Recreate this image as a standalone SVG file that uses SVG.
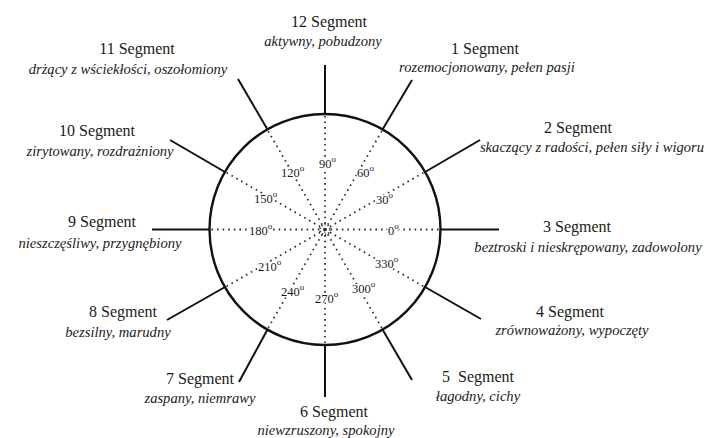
<svg xmlns="http://www.w3.org/2000/svg" width="709" height="438" viewBox="0 0 709 438">
<style>
.t{font-family:"Liberation Serif","Times New Roman",serif;font-size:16px;fill:#1a1a1a;text-anchor:middle}
.s{font-family:"Liberation Serif","Times New Roman",serif;font-size:14.6px;font-style:italic;fill:#1a1a1a;text-anchor:middle}
.a{font-family:"Liberation Serif","Times New Roman",serif;font-size:12.5px;fill:#1a1a1a;stroke:#fff;stroke-width:2.5;paint-order:stroke;stroke-linejoin:round}
.d{font-size:9px}
.ln{stroke:#111;stroke-width:2;fill:none}
.dot{stroke:#333;stroke-width:1.8;stroke-dasharray:1.6 4;fill:none}
</style>
<rect width="709" height="438" fill="#fff"/>
<g id="wheel">
<g class="dot">
<line x1="325" y1="229.5" x2="440" y2="229.5"/>
<line x1="325" y1="229.5" x2="424.6" y2="172"/>
<line x1="325" y1="229.5" x2="382.5" y2="129.9"/>
<line x1="325" y1="229.5" x2="325" y2="114.5"/>
<line x1="325" y1="229.5" x2="267.5" y2="129.9"/>
<line x1="325" y1="229.5" x2="225.4" y2="172"/>
<line x1="325" y1="229.5" x2="210" y2="229.5"/>
<line x1="325" y1="229.5" x2="225.4" y2="287"/>
<line x1="325" y1="229.5" x2="267.5" y2="329.1"/>
<line x1="325" y1="229.5" x2="325" y2="344.5"/>
<line x1="325" y1="229.5" x2="382.5" y2="329.1"/>
<line x1="325" y1="229.5" x2="424.6" y2="287"/>
<circle cx="325" cy="229.5" r="5" stroke-dasharray="1.2 2"/>
</g>
<circle cx="325" cy="229.5" r="115.5" stroke="#111" stroke-width="2.4" fill="none"/>
<text x="325" y="233" style="font-family:'Liberation Serif',serif;font-size:8px;fill:#333;text-anchor:middle">r</text>
<g class="angles">
<text class="a" x="319" y="168">90<tspan class="d" dy="-6">o</tspan></text>
<text class="a" x="357" y="177">60<tspan class="d" dy="-6">o</tspan></text>
<text class="a" x="281" y="177">120<tspan class="d" dy="-6">o</tspan></text>
<text class="a" x="254" y="203">150<tspan class="d" dy="-6">o</tspan></text>
<text class="a" x="376" y="204">30<tspan class="d" dy="-6">o</tspan></text>
<text class="a" x="249" y="235">180<tspan class="d" dy="-6">o</tspan></text>
<text class="a" x="388" y="235">0<tspan class="d" dy="-6">o</tspan></text>
<text class="a" x="258" y="271">210<tspan class="d" dy="-6">o</tspan></text>
<text class="a" x="375" y="268">330<tspan class="d" dy="-6">o</tspan></text>
<text class="a" x="281" y="296">240<tspan class="d" dy="-6">o</tspan></text>
<text class="a" x="315" y="303">270<tspan class="d" dy="-6">o</tspan></text>
<text class="a" x="352" y="293">300<tspan class="d" dy="-6">o</tspan></text>
</g>
</g>
<g id="connectors" class="ln">
<line x1="325" y1="114" x2="325" y2="65"/>
<line x1="382.5" y1="129.5" x2="412" y2="80"/>
<line x1="425" y1="172" x2="480" y2="140"/>
<line x1="440.5" y1="229.5" x2="499" y2="229.5"/>
<line x1="425" y1="287" x2="481" y2="319"/>
<line x1="382.5" y1="329.5" x2="412" y2="380"/>
<line x1="325" y1="345" x2="325" y2="397"/>
<line x1="267.5" y1="329.5" x2="239" y2="382"/>
<line x1="225" y1="287" x2="167" y2="320"/>
<line x1="209.5" y1="229.5" x2="152" y2="229.5"/>
<line x1="225" y1="172" x2="170" y2="140"/>
<line x1="267.5" y1="129.5" x2="238" y2="79"/>
</g>
<g id="seg12"><text class="t" x="329" y="27">12 Segment</text><text class="s" x="323" y="46">aktywny, pobudzony</text></g>
<g id="seg1"><text class="t" x="485" y="54">1 Segment</text><text class="s" x="487" y="72">rozemocjonowany, pełen pasji</text></g>
<g id="seg2"><text class="t" x="578" y="133">2 Segment</text><text class="s" x="592" y="152">skaczący z radości, pełen siły i wigoru</text></g>
<g id="seg3"><text class="t" x="577" y="232">3 Segment</text><text class="s" x="588" y="252">beztroski i nieskrępowany, zadowolony</text></g>
<g id="seg4"><text class="t" x="570" y="317">4 Segment</text><text class="s" x="572" y="335">zrównoważony, wypoczęty</text></g>
<g id="seg5"><text class="t" x="478" y="382" xml:space="preserve">5  Segment</text><text class="s" x="478" y="401">łagodny, cichy</text></g>
<g id="seg6"><text class="t" x="334" y="417">6 Segment</text><text class="s" x="326" y="435">niewzruszony, spokojny</text></g>
<g id="seg7"><text class="t" x="200" y="384">7 Segment</text><text class="s" x="200" y="403">zaspany, niemrawy</text></g>
<g id="seg8"><text class="t" x="123" y="317">8 Segment</text><text class="s" x="118" y="337">bezsilny, marudny</text></g>
<g id="seg9"><text class="t" x="102" y="227">9 Segment</text><text class="s" x="100" y="248">nieszczęśliwy, przygnębiony</text></g>
<g id="seg10"><text class="t" x="97" y="136">10 Segment</text><text class="s" x="100" y="156">zirytowany, rozdrażniony</text></g>
<g id="seg11"><text class="t" x="137" y="54">11 Segment</text><text class="s" x="128" y="74">drżący z wściekłości, oszołomiony</text></g>
</svg>
